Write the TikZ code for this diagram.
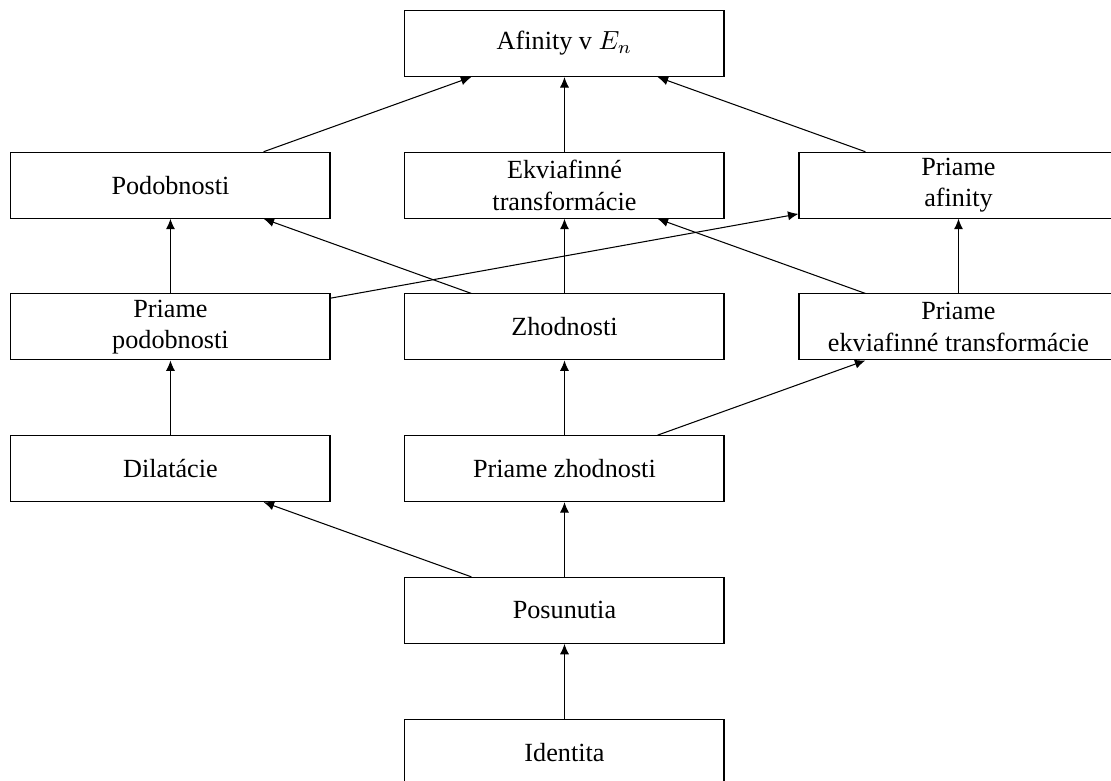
\documentclass[tikz,border=0pt]{standalone}
\usepackage{fontspec}
\setmainfont{Liberation Serif}
\usetikzlibrary{arrows.meta}

\tikzstyle{trans} = [rectangle, minimum width=4.28cm, minimum height=0.885cm, inner ysep=1pt, text centered, align=center, draw=black]
\tikzstyle{arrow} = [-{Latex[length=4pt,width=3.5pt]}]

\begin{document}
\begin{tikzpicture}[node distance=1.901cm]
		\useasboundingbox (-7.573,0.584) rectangle (7.332,-9.881);
		\node (afinity) [trans] {Afinity v $E_n$};
		\node (ekviafinne) [trans, below of=afinity] {Ekviafinné\\ transformácie};
		\node (podobnosti) [trans, left of=ekviafinne, xshift=-3.385cm] {Podobnosti};
		\node (pafinity) [trans, right of=ekviafinne, xshift=3.385cm] {Priame\\ afinity};
		\node (zhodnosti) [trans, below of=ekviafinne] {Zhodnosti};
		\node (ppodobnosti) [trans, below of=podobnosti] {Priame\\ podobnosti};
		\node (pekviafinne) [trans, below of=pafinity] {Priame\\ ekviafinné transformácie};
		\node (pzhodnosti) [trans, below of=zhodnosti] {Priame zhodnosti};
		\node (dilatacie) [trans, below of=ppodobnosti] {Dilatácie};
		\node (posunutia) [trans, below of=pzhodnosti] {Posunutia};
		\node (identita) [trans, below of=posunutia] {Identita};
		
		\draw [arrow] (podobnosti) -- (afinity);
		\draw [arrow] (ekviafinne) -- (afinity);
		\draw [arrow] (pafinity) -- (afinity);
		\draw [arrow] (ppodobnosti) -- (podobnosti);
		\draw [arrow] (zhodnosti) -- (podobnosti);
		\draw [arrow] (ppodobnosti) -- (pafinity);
		\draw [arrow] (zhodnosti) -- (ekviafinne);
		\draw [arrow] (pekviafinne) -- (ekviafinne);
		\draw [arrow] (pekviafinne) -- (pafinity);
		\draw [arrow] (dilatacie) -- (ppodobnosti);
		\draw [arrow] (pzhodnosti) -- (zhodnosti);
		\draw [arrow] (pzhodnosti) -- (pekviafinne);
		\draw [arrow] (posunutia) -- (dilatacie);
		\draw [arrow] (posunutia) -- (pzhodnosti);
		\draw [arrow] (identita) -- (posunutia);
	
	\end{tikzpicture}
\end{document}
